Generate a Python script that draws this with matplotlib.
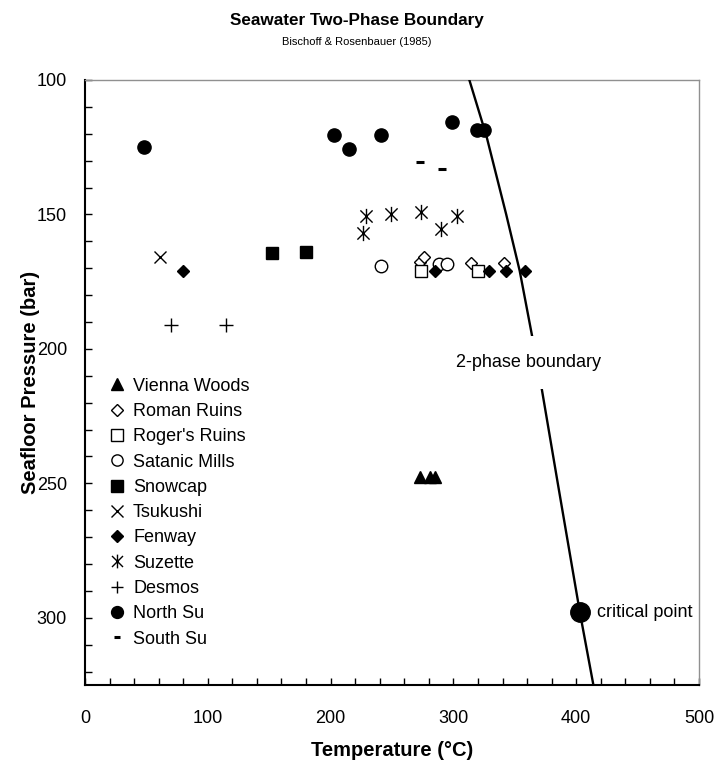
import matplotlib
matplotlib.use("Agg")
import matplotlib.pyplot as plt
from matplotlib.path import Path
from matplotlib.ticker import MultipleLocator

plt.rcParams["font.family"] = ["Liberation Sans", "DejaVu Sans"]

# vent data: temperature (°C) and seafloor pressure (bar)
vienna_t = [273, 281, 285]
vienna_p = [247.5, 247.5, 247.5]
roman_t = [273, 276, 314, 341]
roman_p = [167.5, 166, 168, 168]
rogers_t = [274, 320]
rogers_p = [171, 171]
satanic_t = [241, 288, 295]
satanic_p = [169, 168.5, 168.5]
snowcap_t = [152, 180]
snowcap_p = [164.5, 164]
tsukushi_t = [61]
tsukushi_p = [166]
fenway_t = [80, 285, 329, 343, 358]
fenway_p = [171, 171, 171, 171, 171]
suzette_t = [226, 229, 249, 274, 290, 303]
suzette_p = [157, 150.5, 150, 149, 155.5, 150.5]
desmos_t = [70, 115]
desmos_p = [191, 191]
northsu_t = [48, 203, 215, 241, 299, 319, 325]
northsu_p = [125, 120.5, 125.5, 120.5, 115.5, 118.5, 118.5]
southsu_t = [273, 291]
southsu_p = [130.5, 133]

# two-phase boundary curve
boundary_p = [100, 121, 150, 171, 195, 215, 250, 298, 325]
boundary_t = [313, 327, 343, 354, 364, 372, 385, 403, 414]
critical_t = 403
critical_p = 298

# excel-style asterisk: x plus vertical bar
star = Path(
    [(-0.8, -0.8), (0.8, 0.8), (-0.8, 0.8), (0.8, -0.8), (0, -1), (0, 1)],
    [Path.MOVETO, Path.LINETO, Path.MOVETO, Path.LINETO, Path.MOVETO, Path.LINETO],
)

fig = plt.figure(figsize=(7.14, 7.72), dpi=100)
ax = fig.add_axes([85 / 714, 1 - 685 / 772, 614 / 714, 605 / 772])

k = dict(linestyle="none", color="black")
ax.plot(vienna_t, vienna_p, marker="^", ms=9, label="Vienna Woods", **k)
ax.plot(roman_t, roman_p, marker="D", ms=6.5, mfc="white", mew=1, label="Roman Ruins", **k)
ax.plot(rogers_t, rogers_p, marker="s", ms=9, mfc="white", mew=1, label="Roger's Ruins", **k)
ax.plot(satanic_t, satanic_p, marker="o", ms=9, mfc="white", mew=1, label="Satanic Mills", **k)
ax.plot(snowcap_t, snowcap_p, marker="s", ms=9, label="Snowcap", **k)
ax.plot(tsukushi_t, tsukushi_p, marker="x", ms=9, mew=1, label="Tsukushi", **k)
ax.plot(fenway_t, fenway_p, marker="D", ms=6.5, label="Fenway", **k)
ax.plot(suzette_t, suzette_p, marker=star, ms=11, mew=1, label="Suzette", **k)
ax.plot(desmos_t, desmos_p, marker="+", ms=10, mew=1, label="Desmos", **k)
ax.plot(northsu_t, northsu_p, marker="o", ms=9.5, label="North Su", **k)
ax.plot(southsu_t, southsu_p, marker="_", ms=5.5, mew=2.2, label="South Su", **k)

ax.plot(boundary_t, boundary_p, color="black", lw=1.7, zorder=3)
ax.plot([critical_t], [critical_p], marker="o", ms=14, color="black", zorder=4)
ax.text(critical_t + 14, critical_p, "critical point", fontsize=13, va="center", ha="left")
ax.text(361, 205, "2-phase boundary", fontsize=13, va="center", ha="center", zorder=5,
        bbox=dict(boxstyle="square,pad=1.0", fc="white", ec="none"))

ax.set_xlim(0, 500)
ax.set_ylim(325, 100)
ax.xaxis.set_major_locator(MultipleLocator(100))
ax.xaxis.set_minor_locator(MultipleLocator(20))
ax.yaxis.set_major_locator(MultipleLocator(50))
ax.yaxis.set_minor_locator(MultipleLocator(10))
ax.tick_params(which="both", direction="in", length=5, width=1, labelsize=13)
ax.tick_params(axis="x", which="major", pad=18)
ax.tick_params(axis="y", which="major", pad=13)

for side in ("top", "right"):
    ax.spines[side].set_color("#909090")
    ax.spines[side].set_linewidth(1)
for side in ("left", "bottom"):
    ax.spines[side].set_linewidth(1.5)

ax.set_xlabel("Temperature (°C)", fontsize=14.5, fontweight="bold")
ax.set_ylabel("Seafloor Pressure (bar)", fontsize=14.5, fontweight="bold")
ax.xaxis.set_label_coords(0.5, -0.092)
ax.yaxis.set_label_coords(-0.074, 0.5)

ax.legend(loc="upper left", bbox_to_anchor=(0.04, 0.508), frameon=False, fontsize=13,
          handlelength=0.8, handletextpad=0.5, labelspacing=0.46, borderpad=0,
          borderaxespad=0, markerscale=0.9)

fig.text(0.5, 1 - 20 / 772, "Seawater Two-Phase Boundary", ha="center", va="center",
         fontsize=12.3, fontweight="bold")
fig.text(0.5, 1 - 42 / 772, "Bischoff & Rosenbauer (1985)", ha="center", va="center",
         fontsize=8)

fig.savefig("out.png", dpi=100)
